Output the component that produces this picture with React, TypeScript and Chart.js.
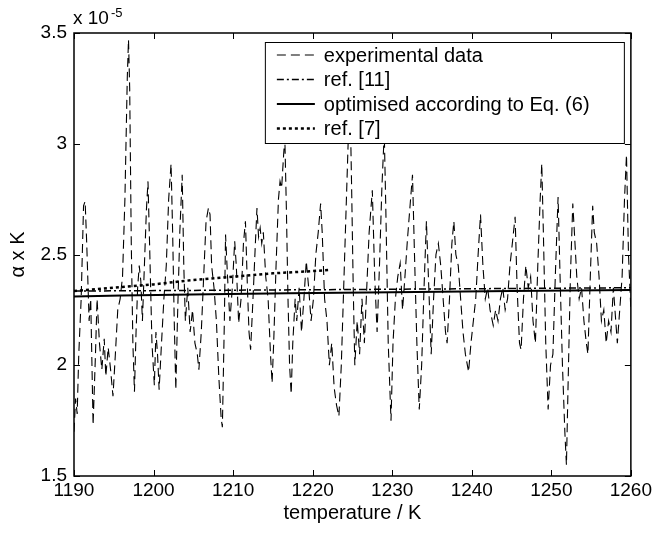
import React, { useEffect, useRef } from 'react';
import { Chart, registerables } from 'chart.js';

Chart.register(...registerables);

// experimental data (alpha in units of 1e-5 per K)
const expT = [
  1190.0, 1190.2, 1190.4, 1190.6, 1190.9, 1191.2, 1191.4, 1191.6, 1191.9, 1192.1,
  1192.4, 1192.7, 1192.9, 1193.2, 1193.5, 1193.8, 1194.0, 1194.3, 1194.6, 1194.9,
  1195.2, 1195.5, 1195.8, 1196.1, 1196.4, 1196.7, 1196.85, 1197.0, 1197.2, 1197.4,
  1197.6, 1197.8, 1198.0, 1198.2, 1198.4, 1198.6, 1198.8, 1199.1, 1199.3, 1199.5,
  1199.8, 1200.1, 1200.3, 1200.5, 1200.7, 1201.0, 1201.3, 1201.6, 1201.9, 1202.2,
  1202.4, 1202.6, 1202.8, 1203.0, 1203.3, 1203.6, 1203.8, 1204.0, 1204.3, 1204.6,
  1204.9, 1205.2, 1205.5, 1205.7, 1206.0, 1206.3, 1206.6, 1206.9, 1207.1, 1207.3,
  1207.6, 1207.9, 1208.2, 1208.5, 1208.65, 1208.9, 1209.05, 1209.3, 1209.6, 1209.9,
  1210.2, 1210.4, 1210.7, 1211.0, 1211.3, 1211.55, 1211.8, 1212.0, 1212.2, 1212.5,
  1212.8, 1213.0, 1213.2, 1213.4, 1213.6, 1213.8, 1214.1, 1214.4, 1214.7, 1214.9,
  1215.1, 1215.4, 1215.7, 1215.9, 1216.1, 1216.35, 1216.5, 1216.7, 1216.9, 1217.1,
  1217.3, 1217.5, 1217.8, 1218.0, 1218.3, 1218.6, 1218.9, 1219.2, 1219.5, 1219.8,
  1220.1, 1220.4, 1220.7, 1221.0, 1221.2, 1221.5, 1221.8, 1222.1, 1222.4, 1222.7,
  1223.0, 1223.3, 1223.6, 1223.9, 1224.2, 1224.5, 1224.7, 1224.9, 1225.1, 1225.3,
  1225.6, 1225.9, 1226.2, 1226.5, 1226.8, 1227.1, 1227.5, 1227.8, 1228.1, 1228.4,
  1228.7, 1229.0, 1229.2, 1229.5, 1229.85, 1230.1, 1230.4, 1230.7, 1231.0, 1231.3,
  1231.6, 1231.9, 1232.2, 1232.55, 1232.8, 1233.1, 1233.4, 1233.7, 1234.0, 1234.3,
  1234.6, 1234.9, 1235.2, 1235.5, 1235.8, 1236.1, 1236.4, 1236.7, 1236.9, 1237.2,
  1237.5, 1237.75, 1238.0, 1238.3, 1238.6, 1238.9, 1239.2, 1239.6, 1239.9, 1240.2,
  1240.5, 1240.8, 1241.1, 1241.4, 1241.7, 1242.0, 1242.3, 1242.7, 1243.0, 1243.3,
  1243.6, 1243.9, 1244.2, 1244.5, 1244.8, 1245.1, 1245.45, 1245.7, 1246.0, 1246.2,
  1246.5, 1246.8, 1247.1, 1247.4, 1247.7, 1248.0, 1248.3, 1248.6, 1248.8, 1249.0,
  1249.3, 1249.6, 1249.9, 1250.2, 1250.5, 1250.85, 1251.1, 1251.4, 1251.7, 1251.9,
  1252.1, 1252.4, 1252.7, 1252.9, 1253.2, 1253.5, 1253.8, 1254.1, 1254.4, 1254.6,
  1254.9, 1255.2, 1255.4, 1255.7, 1256.0, 1256.3, 1256.6, 1256.9, 1257.2, 1257.5,
  1257.8, 1258.1, 1258.3, 1258.6, 1258.9, 1259.2, 1259.45, 1259.7, 1260.0,
];
const expAlpha = [
  1.70, 1.85, 1.78, 2.05, 2.30, 2.72, 2.74, 2.55, 2.20, 2.30,
  1.73, 2.05, 2.30, 2.10, 1.98, 2.12, 1.95, 2.08, 1.98, 1.86,
  2.05, 2.25, 2.30, 2.40, 2.75, 3.30, 3.47, 3.25, 2.55, 2.10,
  1.88, 2.15, 2.35, 2.45, 2.38, 2.20, 2.40, 2.70, 2.83, 2.55,
  2.10, 1.91, 2.15, 2.05, 1.89, 2.10, 2.30, 2.45, 2.75, 2.91,
  2.60, 2.20, 1.89, 2.20, 2.60, 2.86, 2.45, 2.20, 2.35, 2.15,
  2.25, 2.10, 2.05, 1.98, 2.15, 2.40, 2.65, 2.71, 2.68, 2.45,
  2.35, 2.20, 1.95, 1.76, 1.72, 2.20, 2.59, 2.40, 2.20, 2.35,
  2.56, 2.45, 2.19, 2.30, 2.55, 2.65, 2.35, 2.15, 2.07, 2.30,
  2.55, 2.71, 2.58, 2.62, 2.55, 2.60, 2.40, 2.30, 2.05, 1.92,
  2.10, 2.45, 2.75, 2.83, 2.80, 2.95, 3.03, 2.70, 2.30, 2.00,
  1.87, 2.10, 2.30, 2.20, 2.35, 2.15, 2.30, 2.47, 2.35, 2.20,
  2.30, 2.50, 2.60, 2.73, 2.60, 2.30, 2.20, 2.00, 2.10, 1.90,
  1.82, 1.77, 2.00, 2.35, 2.70, 3.05, 3.20, 2.80, 2.35, 2.00,
  2.20, 2.05, 2.30, 2.10, 2.35, 2.60, 2.79, 2.40, 2.15, 2.45,
  2.80, 3.05, 2.70, 2.10, 1.75, 2.10, 2.30, 2.40, 2.46, 2.25,
  2.40, 2.56, 2.70, 2.86, 2.50, 2.10, 1.80, 2.00, 2.35, 2.65,
  2.35, 2.05, 2.30, 2.50, 2.55, 2.45, 2.30, 2.15, 2.10, 2.30,
  2.55, 2.65, 2.50, 2.45, 2.30, 2.15, 2.05, 1.97, 2.10, 2.20,
  2.30, 2.50, 2.68, 2.45, 2.30, 2.35, 2.25, 2.18, 2.25, 2.20,
  2.30, 2.35, 2.25, 2.30, 2.45, 2.55, 2.67, 2.35, 2.10, 2.07,
  2.30, 2.45, 2.35, 2.40, 2.20, 2.10, 2.45, 2.75, 2.91, 2.60,
  2.10, 1.80, 2.00, 2.05, 2.40, 2.76, 2.40, 2.00, 1.70, 1.55,
  1.90, 2.40, 2.73, 2.60, 2.40, 2.30, 2.35, 2.20, 2.10, 2.05,
  2.40, 2.72, 2.60, 2.55, 2.40, 2.20, 2.25, 2.10, 2.20, 2.15,
  2.35, 2.20, 2.10, 2.25, 2.40, 2.75, 2.95, 2.50, 2.25,
];

const ref11T = [1190, 1225, 1260];
const ref11Alpha = [2.335, 2.342, 2.35];

const optT = [1190, 1196, 1207, 1217, 1230, 1245, 1260];
const optAlpha = [2.31, 2.315, 2.32, 2.325, 2.33, 2.335, 2.34];

const ref7T = [1190, 1195, 1200, 1205, 1210, 1215, 1220, 1222];
const ref7Alpha = [2.335, 2.35, 2.365, 2.385, 2.4, 2.415, 2.425, 2.43];

const xTicks = [1190, 1200, 1210, 1220, 1230, 1240, 1250, 1260];
const yTicks = [1.5, 2, 2.5, 3, 3.5];

const seriesLabels = [
  'experimental data',
  'ref. [11]',
  'optimised according to Eq. (6)',
  'ref. [7]',
];

const FONT = '"Liberation Sans", Arial, Helvetica, sans-serif';

const toPoints = (xs: number[], ys: number[]) => xs.map((x, i) => ({ x, y: ys[i] }));

const framePlugin = {
  id: 'frameAndLegend',
  afterDatasetsDraw(chart: any) {
    const { ctx, chartArea: a, scales } = chart;
    ctx.save();

    // legend box
    const lx = a.right - 366;
    const ly = a.top + 9;
    const lw = 359;
    const lh = 101;
    ctx.fillStyle = '#fff';
    ctx.fillRect(lx, ly, lw, lh);
    ctx.strokeStyle = '#000';
    ctx.lineWidth = 1;
    ctx.setLineDash([]);
    ctx.strokeRect(lx + 0.5, ly + 0.5, lw, lh);
    chart.data.datasets.forEach((ds: any, i: number) => {
      const y = ly + 13 + i * 24.5;
      ctx.save();
      ctx.strokeStyle = ds.borderColor;
      ctx.lineWidth = ds.borderWidth;
      ctx.setLineDash(ds.borderDash || []);
      ctx.beginPath();
      ctx.moveTo(lx + 12, y);
      ctx.lineTo(lx + 50, y);
      ctx.stroke();
      ctx.restore();
      ctx.fillStyle = '#000';
      ctx.font = '20px ' + FONT;
      ctx.textBaseline = 'middle';
      ctx.textAlign = 'left';
      ctx.fillText(ds.label, lx + 59, y + 1);
    });

    // axes box
    ctx.strokeStyle = '#000';
    ctx.lineWidth = 1.5;
    ctx.setLineDash([]);
    ctx.strokeRect(a.left, a.top, a.right - a.left, a.bottom - a.top);

    // inner ticks on all four sides
    const tl = 6;
    ctx.lineWidth = 1;
    ctx.beginPath();
    xTicks.forEach((v) => {
      const x = Math.round(scales.x.getPixelForValue(v)) + 0.5;
      ctx.moveTo(x, a.bottom);
      ctx.lineTo(x, a.bottom - tl);
      ctx.moveTo(x, a.top);
      ctx.lineTo(x, a.top + tl);
    });
    yTicks.forEach((v) => {
      const y = Math.round(scales.y.getPixelForValue(v)) + 0.5;
      ctx.moveTo(a.left, y);
      ctx.lineTo(a.left + tl, y);
      ctx.moveTo(a.right, y);
      ctx.lineTo(a.right - tl, y);
    });
    ctx.stroke();

    // exponent label
    ctx.fillStyle = '#000';
    ctx.textAlign = 'left';
    ctx.textBaseline = 'alphabetic';
    ctx.font = '19px ' + FONT;
    ctx.fillText('x 10', a.left - 1, a.top - 9);
    ctx.font = '13px ' + FONT;
    ctx.fillText('-5', a.left + 37, a.top - 16);

    ctx.restore();
  },
};

export default function App() {
  const ref = useRef<HTMLCanvasElement | null>(null);

  useEffect(() => {
    if (!ref.current) return;
    const chart = new Chart(ref.current, {
      type: 'line',
      data: {
        datasets: [
          {
            label: seriesLabels[0],
            data: toPoints(expT, expAlpha),
            borderColor: '#000',
            borderWidth: 1.1,
            borderDash: [9, 5],
            pointRadius: 0,
            tension: 0,
          },
          {
            label: seriesLabels[1],
            data: toPoints(ref11T, ref11Alpha),
            borderColor: '#000',
            borderWidth: 1.5,
            borderDash: [7, 3, 2, 3],
            pointRadius: 0,
          },
          {
            label: seriesLabels[2],
            data: toPoints(optT, optAlpha),
            borderColor: '#000',
            borderWidth: 2,
            pointRadius: 0,
          },
          {
            label: seriesLabels[3],
            data: toPoints(ref7T, ref7Alpha),
            borderColor: '#000',
            borderWidth: 2.5,
            borderDash: [3, 3],
            pointRadius: 0,
          },
        ],
      },
      options: {
        responsive: false,
        animation: false,
        events: [],
        layout: { padding: { top: 33, right: 20, left: 0, bottom: 0 } },
        plugins: {
          legend: { display: false },
          tooltip: { enabled: false },
        },
        scales: {
          x: {
            type: 'linear',
            min: 1190,
            max: 1260,
            grid: { display: false, drawTicks: false },
            border: { display: false },
            afterFit: (s: any) => {
              s.height = 58;
            },
            afterBuildTicks: (s: any) => {
              s.ticks = xTicks.map((v) => ({ value: v }));
            },
            ticks: {
              color: '#000',
              font: { family: FONT, size: 19 },
              padding: 3,
              maxRotation: 0,
              autoSkip: false,
              callback: (v: any) => String(v),
            },
            title: {
              display: true,
              text: 'temperature / K',
              color: '#000',
              font: { family: FONT, size: 20 },
              padding: { top: 0, bottom: 9 },
            },
          },
          y: {
            type: 'linear',
            min: 1.5,
            max: 3.5,
            grid: { display: false, drawTicks: false },
            border: { display: false },
            afterFit: (s: any) => {
              s.width = 74;
            },
            afterBuildTicks: (s: any) => {
              s.ticks = yTicks.map((v) => ({ value: v }));
            },
            ticks: {
              color: '#000',
              font: { family: FONT, size: 19 },
              padding: 7,
              autoSkip: false,
              callback: (v: any) => String(Number(v)),
            },
            title: {
              display: true,
              text: 'α x K',
              color: '#000',
              font: { family: FONT, size: 20 },
              padding: { top: 6, bottom: 0 },
            },
          },
        },
      },
      plugins: [framePlugin],
    });
    return () => chart.destroy();
  }, []);

  return (
    <div style={{ position: 'absolute', left: 0, top: 0, width: 655, height: 534, background: '#fff' }}>
      <canvas ref={ref} width={655} height={534} style={{ display: 'block' }} />
    </div>
  );
}
